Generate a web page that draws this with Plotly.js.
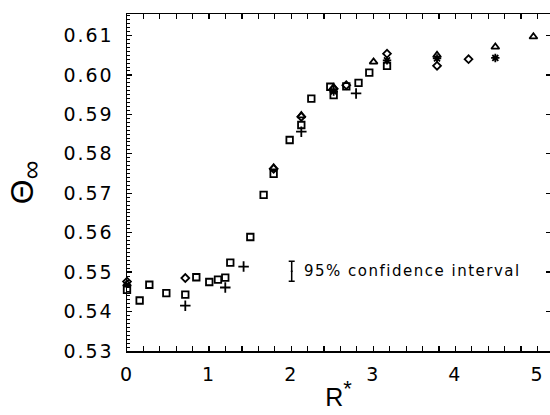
<!DOCTYPE html>
<html><head><meta charset="utf-8">
<script src="https://cdn.plot.ly/plotly-3.0.1.min.js"></script>
<style>
body{margin:0;overflow:hidden;background:#fff}
.xtick text,.ytick text{letter-spacing:2px}
.annotation-text{letter-spacing:1.5px}
</style></head><body><div id="chart" style="width:550px;height:415px"></div>
<script>
// ---- data ----
const squareX = [0, 0.154, 0.272, 0.479, 0.71, 0.844, 1.002, 1.108, 1.197, 1.258, 1.502, 1.664, 1.786, 1.981, 2.123, 2.245, 2.476, 2.517, 2.671, 2.82, 2.951, 3.167];
const squareY = [0.5455, 0.5428, 0.5468, 0.5447, 0.5443, 0.5487, 0.5475, 0.5481, 0.5486, 0.5524, 0.5589, 0.5696, 0.5749, 0.5835, 0.5873, 0.5940, 0.5970, 0.5949, 0.5971, 0.5980, 0.6006, 0.6023];
const plusX = [0.71, 1.197, 1.42, 2.123, 2.79];
const plusY = [0.5415, 0.5461, 0.5514, 0.5856, 0.5953];
const diamondX = [0, 0.71, 1.786, 2.123, 2.517, 2.671, 3.167, 3.776, 4.16];
const diamondY = [0.5476, 0.5485, 0.5762, 0.5894, 0.5965, 0.5974, 0.6054, 0.6023, 0.6040];
const triangleX = [0, 1.786, 2.123, 2.517, 3.003, 3.776, 4.486, 4.95];
const triangleY = [0.5470, 0.5765, 0.5897, 0.5968, 0.6033, 0.6050, 0.6071, 0.6097];
const starX = [2.517, 3.167, 3.776, 4.486];
const starY = [0.5958, 0.6037, 0.6042, 0.6043];
const ciX = [2.006];
const ciY = [0.5502];
const ciHalf = [0.00254];
const ciLabel = "95% confidence interval";
const xTickVals = [0, 1, 2, 3, 4, 5];
const xTickText = ["0", "1", "2", "3", "4", "5"];
const yTickVals = [0.53, 0.54, 0.55, 0.56, 0.57, 0.58, 0.59, 0.60, 0.61];
const yTickText = ["0.53", "0.54", "0.55", "0.56", "0.57", "0.58", "0.59", "0.60", "0.61"];
const xRange = [0, 5.152];
const yRange = [0.53, 0.61545];

function ser(x, y, symbol, size, name) {
  return {x: x, y: y, type: 'scatter', mode: 'markers', name: name, cliponaxis: false,
    marker: {symbol: symbol, size: size, color: '#000', line: {color: '#000', width: 1.8}}};
}
const traces = [
  ser(squareX, squareY, 'square-open', 6.5, 'square'),
  ser(plusX, plusY, 'cross-thin-open', 7.5, 'plus'),
  ser(diamondX, diamondY, 'diamond-open', 6, 'diamond'),
  ser(triangleX, triangleY, 'triangle-up-open', 7, 'triangle'),
  ser(starX, starY, 'asterisk-open', 7, 'star'),
  {x: ciX, y: ciY, type: 'scatter', mode: 'markers', cliponaxis: false,
   marker: {size: 2, color: '#000'},
   error_y: {type: 'data', array: ciHalf, visible: true, color: '#000', thickness: 1.5, width: 3}},
  {x: [], y: [], type: 'scatter', yaxis: 'y2', showlegend: false}
];
const tickFont = {family: 'DejaVu Sans', size: 19, color: '#000'};
const layout = {
  width: 550, height: 415,
  margin: {l: 127, r: 0, t: 14, b: 64},
  paper_bgcolor: '#fff', plot_bgcolor: '#fff',
  showlegend: false,
  xaxis: {range: xRange, tickmode: 'array', tickvals: xTickVals, ticktext: xTickText,
    ticks: 'inside', ticklen: 5, tickwidth: 1.3, tickcolor: '#000',
    showline: true, linecolor: '#000', linewidth: 1.5, mirror: 'allticks',
    showgrid: false, zeroline: false, tickfont: tickFont, ticklabelstandoff: 6,
    minor: {dtick: 0.2, ticks: 'inside', ticklen: 3, tickwidth: 1.2, tickcolor: '#000', showgrid: false},
    title: {text: 'R<sup><span style="font-size:22px">*</span></sup>\u00a0\u00a0\u00a0', font: {family: 'Liberation Sans', size: 25, color: '#000'}, standoff: 4}},
  yaxis: {range: yRange, tickmode: 'array', tickvals: yTickVals, ticktext: yTickText,
    ticks: 'inside', ticklen: 5, tickwidth: 1.3, tickcolor: '#000',
    showline: true, linecolor: '#000', linewidth: 1.5, mirror: false,
    showgrid: false, zeroline: false, tickfont: tickFont, ticklabelstandoff: 8,
    minor: {dtick: 0.001, ticks: 'inside', ticklen: 3, tickwidth: 1, tickcolor: '#000', showgrid: false},
    title: {text: 'Θ<sub><span style="font-size:26px">∞</span></sub>', font: {family: 'Liberation Sans', size: 32, color: '#000'}, standoff: 20}},
  yaxis2: {range: yRange, overlaying: 'y', side: 'right', tickmode: 'array', tickvals: yTickVals,
    ticks: 'inside', ticklen: 4, tickwidth: 1.3, tickcolor: '#000', showticklabels: false,
    showline: false, showgrid: false, zeroline: false},
  annotations: [{x: ciX[0], y: ciY[0], xref: 'x', yref: 'y', text: ciLabel, showarrow: false,
    xanchor: 'left', yanchor: 'middle', xshift: 10,
    font: {family: 'DejaVu Sans', size: 15, color: '#000'}}]
};
Plotly.newPlot('chart', traces, layout, {staticPlot: true});
</script></body></html>
